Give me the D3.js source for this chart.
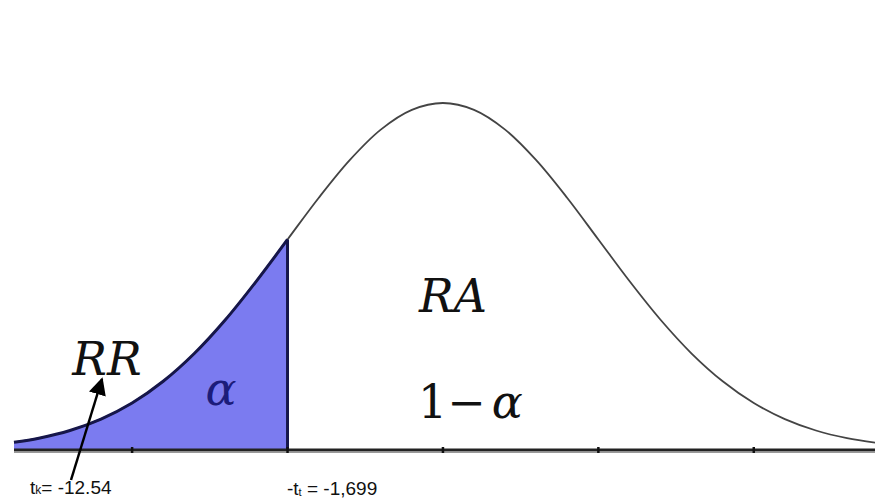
<!DOCTYPE html>
<html><head><meta charset="utf-8">
<script src="https://cdn.jsdelivr.net/npm/d3@7"></script>
<style>html,body{margin:0;padding:0;background:#fff;}svg{display:block;}
.sf{font-family:"DejaVu Serif",serif;}
.ss{font-family:"Liberation Sans",Arial,"DejaVu Sans",sans-serif;}
</style>
</head><body>
<svg id="c" width="875" height="500"></svg>
<script>
// density readings (standard units z, height)
const zVals = [-2.76,-2.6,-2.4,-2.2,-2.0,-1.8,-1.6,-1.4,-1.2,-1.0,-0.8,-0.6,-0.4,-0.2,0,0.2,0.4,0.6,0.8,1.0,1.2,1.4,1.6,1.8,2.0,2.2,2.4,2.6,2.78];
const density = [0.0088,0.0136,0.0224,0.0355,0.0540,0.0790,0.1109,0.1497,0.1942,0.2420,0.2897,0.3332,0.3683,0.3910,0.3989,0.3910,0.3683,0.3332,0.2897,0.2420,0.1942,0.1497,0.1109,0.0790,0.0540,0.0355,0.0224,0.0136,0.0084];
const tickVals = [-2,-1,0,1,2];
const critical = -1;
const labels = {rr:"RR", ra:"RA", alpha:"α", one:"1−", tk:"-12.54", tt:"-1,699"};

const svg = d3.select("#c");
const x = d3.scaleLinear().domain([-2.76, 2.78]).range([14, 875]);
const y = d3.scaleLinear().domain([0, 0.3989]).range([450, 103]);
const pts = zVals.map((z,i)=>({z, d:density[i]}));

// shaded region
const leftPts = pts.filter(p=>p.z<=critical);
const area = d3.area().x(p=>x(p.z)).y0(y(0)).y1(p=>y(p.d)).curve(d3.curveCatmullRom);
svg.append("path").datum(leftPts).attr("d", area).attr("fill","#7b7bf0");

// full curve
const line = d3.line().x(p=>x(p.z)).y(p=>y(p.d)).curve(d3.curveCatmullRom);
svg.append("path").datum(pts).attr("d", line).attr("fill","none").attr("stroke","#444").attr("stroke-width",1.8);
svg.append("path").datum(leftPts).attr("d", line).attr("fill","none").attr("stroke","#16164a").attr("stroke-width",3);

// critical vertical line
const cd = density[zVals.indexOf(critical)];
svg.append("line").attr("x1",x(critical)).attr("x2",x(critical)).attr("y1",y(cd)).attr("y2",y(0))
  .attr("stroke","#16164a").attr("stroke-width",3);

// axis
svg.append("line").attr("x1",x(-2.76)).attr("x2",x(2.78)).attr("y1",y(0)).attr("y2",y(0))
  .attr("stroke","#222").attr("stroke-width",3);
svg.append("line").attr("x1",x(-2.76)).attr("x2",x(2.78)).attr("y1",y(0)+2.5).attr("y2",y(0)+2.5)
  .attr("stroke","#999").attr("stroke-width",1);
svg.selectAll(".tk").data(tickVals).enter().append("line")
  .attr("x1",d=>x(d)).attr("x2",d=>x(d)).attr("y1",y(0)-3).attr("y2",y(0)+3)
  .attr("stroke","#111").attr("stroke-width",2.5);

// italic labels
svg.append("text").attr("class","sf").attr("x",107).attr("y",375).attr("text-anchor","middle")
  .attr("font-style","italic").attr("font-size",46).attr("fill","#111").text(labels.rr);
svg.append("text").attr("class","sf").attr("x",221).attr("y",405).attr("text-anchor","middle")
  .attr("font-style","italic").attr("font-size",46).attr("fill","#1c1c7a").text(labels.alpha);
svg.append("text").attr("class","sf").attr("x",453).attr("y",312).attr("text-anchor","middle")
  .attr("font-style","italic").attr("font-size",46).attr("fill","#111").text(labels.ra);
const t1 = svg.append("text").attr("class","sf").attr("x",418).attr("y",418)
  .attr("font-size",46).attr("fill","#111");
t1.append("tspan").text(labels.one);
t1.append("tspan").attr("dx",6).attr("font-style","italic").text(labels.alpha);

// arrow
const defs = svg.append("defs");
defs.append("marker").attr("id","ah").attr("viewBox","0 0 10 10").attr("refX",9).attr("refY",5)
  .attr("markerWidth",7).attr("markerHeight",7).attr("orient","auto")
  .append("path").attr("d","M0,0L10,5L0,10z").attr("fill","#000");
svg.append("line").attr("x1",71).attr("y1",480).attr("x2",102).attr("y2",379)
  .attr("stroke","#000").attr("stroke-width",2.5).attr("marker-end","url(#ah)");

// bottom labels
const l1 = svg.append("text").attr("class","ss").attr("x",30).attr("y",494).attr("font-size",19).attr("fill","#111");
l1.append("tspan").text("t");
l1.append("tspan").attr("font-size",12).text("k");
l1.append("tspan").text("= " + labels.tk);
const l2 = svg.append("text").attr("class","ss").attr("x",287).attr("y",495).attr("font-size",19).attr("fill","#111");
l2.append("tspan").text("-t");
l2.append("tspan").attr("font-size",11).attr("dy",1).text("t");
l2.append("tspan").attr("dy",-1).text(" = " + labels.tt);
</script>
</body></html>
